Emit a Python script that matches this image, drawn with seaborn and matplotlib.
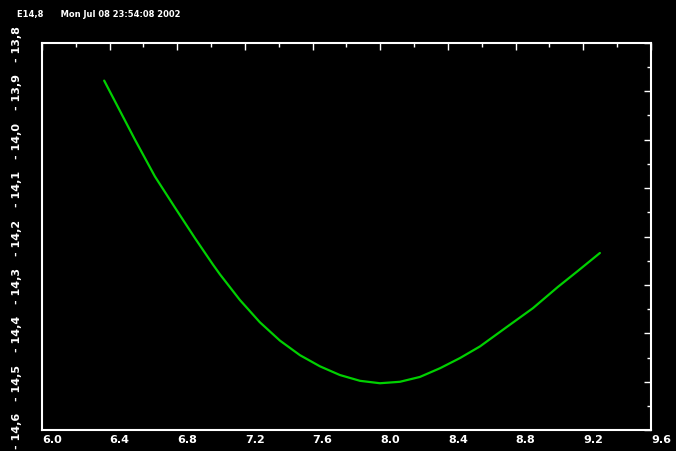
import numpy as np
import pandas as pd
import seaborn as sns
import matplotlib
matplotlib.use("Agg")
import matplotlib.pyplot as plt
from matplotlib.ticker import MultipleLocator, FixedLocator, FixedFormatter

# curve
x_vals = [6.368, 6.550, 6.668, 6.786, 6.904, 7.011, 7.052, 7.170, 7.288, 7.407,
          7.525, 7.643, 7.761, 7.880, 7.998, 8.116, 8.234, 8.353, 8.471, 8.589,
          8.747, 8.902, 9.050, 9.168, 9.298]
y_vals = [-13.878, -14.000, -14.076, -14.140, -14.203, -14.258, -14.278, -14.331,
          -14.377, -14.415, -14.445, -14.468, -14.486, -14.498, -14.503, -14.500,
          -14.490, -14.472, -14.451, -14.427, -14.387, -14.348, -14.304, -14.271,
          -14.234]
x_ticks = [6.0, 6.4, 6.8, 7.2, 7.6, 8.0, 8.4, 8.8, 9.2, 9.6]
y_ticks = [-13.8, -13.9, -14.0, -14.1, -14.2, -14.3, -14.4, -14.5, -14.6]
header = "E14,8      Mon Jul 08 23:54:08 2002"

df = pd.DataFrame({"x": x_vals, "y": y_vals})

sns.set_style("dark", {"axes.facecolor": "black", "figure.facecolor": "black",
                       "axes.edgecolor": "white", "text.color": "white",
                       "xtick.color": "white", "ytick.color": "white"})
plt.rcParams["font.family"] = ["DejaVu Sans"]

fig = plt.figure(figsize=(6.76, 4.52), dpi=100)
ax = fig.add_axes([0.062, 0.046, 0.901, 0.857])

sns.lineplot(data=df, x="x", y="y", ax=ax, color="#00d000", linewidth=1.6)

ax.set_xlim(6.0, 9.6)
ax.set_ylim(-14.6, -13.8)
ax.set_xlabel("")
ax.set_ylabel("")

ax.xaxis.set_major_locator(FixedLocator(x_ticks))
ax.xaxis.set_major_formatter(FixedFormatter([f"{v:.1f}" for v in x_ticks]))
ax.xaxis.set_minor_locator(MultipleLocator(0.2))
ax.yaxis.set_major_locator(FixedLocator(y_ticks))
ax.yaxis.set_major_formatter(FixedFormatter(
    ["- " + f"{abs(v):.1f}".replace(".", ",") for v in y_ticks]))
ax.yaxis.set_minor_locator(MultipleLocator(0.05))

ax.tick_params(which="both", direction="in", top=True, right=True,
               colors="white", width=1)
ax.tick_params(which="major", length=5, labelsize=8)
ax.tick_params(which="minor", length=3)
ax.tick_params(axis="x", which="major", pad=3)
ax.tick_params(axis="y", which="major", pad=14)
for lab in ax.get_xticklabels():
    lab.set_fontweight("bold")
    lab.set_ha("left")
for lab in ax.get_yticklabels():
    lab.set_rotation(90)
    lab.set_va("center")
    lab.set_fontweight("bold")

for sp in ax.spines.values():
    sp.set_color("white")
    sp.set_linewidth(1.5)
    sp.set_visible(True)

fig.text(0.025, 0.968, header, fontsize=6, fontweight="bold", color="white",
         va="center", ha="left")

fig.savefig("out.png", dpi=100, facecolor="black")
